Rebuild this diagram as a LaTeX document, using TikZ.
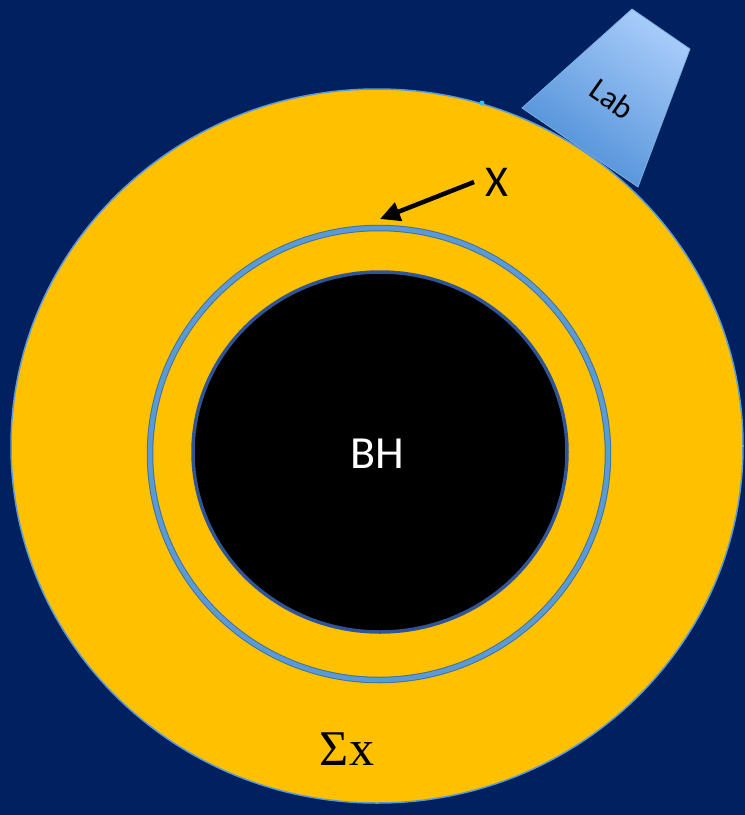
\documentclass[tikz,border=0pt]{standalone}
\usepackage{fontspec}
\setmainfont{Liberation Serif}
\newfontfamily\calibri{Carlito}
\usetikzlibrary{arrows.meta,positioning}
\definecolor{navybg}{HTML}{002060}
\definecolor{amber}{HTML}{FFC000}
\definecolor{ringblue}{HTML}{5B9BD5}
\definecolor{ringedge}{HTML}{41719C}
\definecolor{bhedge}{HTML}{2F5597}
\definecolor{labtop}{HTML}{A6CBF9}
\definecolor{labbot}{HTML}{4A8CD6}
\definecolor{speck}{HTML}{2FC0F0}

\begin{document}
\begin{tikzpicture}[x=1pt, y=-1pt,
    bodyfill/.style={fill=amber, draw=ringblue, line width=1.5pt},
    ringline/.style={draw=ringedge, double=ringblue, double distance=4.5pt, line width=1pt},
    bhdisk/.style={fill=black, draw=bhedge, line width=3.5pt},
    labbox/.style={top color=labtop, bottom color=labbot, shading angle=-35,
                   draw=ringblue!80, line width=0.8pt},
    sanslbl/.style={font=\calibri\fontsize{#1}{#1}\selectfont},
    pointer/.style={-{Triangle[length=20pt, width=19pt]}, line width=4.5pt},
  ]
    % frame and background
    \useasboundingbox (0,0) rectangle (745,815);
    \clip (0,0) rectangle (745,815);
    \fill[navybg] (0,0) rectangle (745,815);

    % Lab on the surface
    \shade[labbox] (632,9) -- (690,49) -- (638,187) -- (522,108) -- cycle;
    \node[sanslbl=32, rotate=-35, inner sep=0pt] (lab) at (612,99) {Lab};

    % outer body
    \draw[bodyfill] (377,446) ellipse [x radius=366pt, y radius=357pt];
    \fill[speck] (482,103) circle [radius=2.5pt];

    % ring and black hole
    \draw[ringline] (379,454) ellipse [x radius=229pt, y radius=226pt];
    \draw[bhdisk] (380,452) ellipse [x radius=187pt, y radius=180pt];
    \node[sanslbl=46, text=white] (bh) at (377,454) {BH};

    % label X pointing at the ring
    \node[sanslbl=44] (xmark) at (497,182) {X};
    \coordinate (xtip) at (380,219);
    \draw[pointer] ([xshift=-8pt]xmark.west) -- (xtip);

    % sum label
    \node[font=\fontsize{50}{50}\selectfont] (sumx) at (347,749) {Σx};
\end{tikzpicture}
\end{document}
